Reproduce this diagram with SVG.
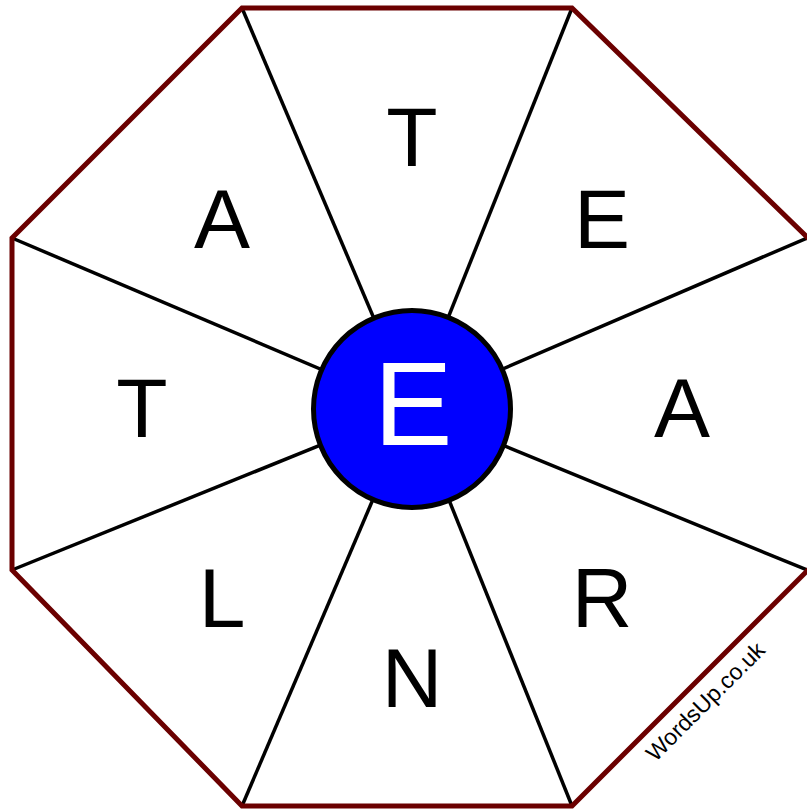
<svg xmlns="http://www.w3.org/2000/svg" width="807" height="809" viewBox="0 0 807 809">
<style>
.spoke{stroke:#000;stroke-width:3.5;fill:none}
.letter{font-family:"Liberation Sans",Arial,sans-serif;font-size:84px;fill:#000;text-anchor:middle}
</style>
<rect width="807" height="809" fill="#fff"/>
<g id="connectors">
<line class="spoke" x1="242" y1="8" x2="412" y2="408"/>
<line class="spoke" x1="572" y1="8" x2="412" y2="408"/>
<line class="spoke" x1="807" y1="238" x2="412" y2="408"/>
<line class="spoke" x1="807" y1="570" x2="412" y2="408"/>
<line class="spoke" x1="572" y1="806" x2="412" y2="408"/>
<line class="spoke" x1="242" y1="806" x2="412" y2="408"/>
<line class="spoke" x1="12" y1="570" x2="412" y2="408"/>
<line class="spoke" x1="12" y1="238" x2="412" y2="408"/>
</g>
<g id="octagon">
<polygon points="242,8 572,8 810,240 810,568 572,806 242,806 12,570 12,238" fill="none" stroke="#6B0000" stroke-width="5" stroke-linejoin="miter"/>
</g>
<g id="letters">
<text class="letter" x="412" y="166">T</text>
<text class="letter" x="602" y="248">E</text>
<text class="letter" x="682" y="437">A</text>
<text class="letter" x="602" y="627">R</text>
<text class="letter" x="412" y="707">N</text>
<text class="letter" x="222" y="627">L</text>
<text class="letter" x="142" y="437">T</text>
<text class="letter" x="222" y="248">A</text>
</g>
<g id="center">
<circle cx="412" cy="409" r="98.5" fill="#0000FF" stroke="#000" stroke-width="5"/>
<text x="413" y="445" font-family="Liberation Sans, Arial, sans-serif" font-size="118" fill="#fff" text-anchor="middle">E</text>
</g>
<g id="watermark">
<text x="0" y="0" transform="translate(711,707) rotate(-45)" font-family="Liberation Sans, Arial, sans-serif" font-size="23" fill="#000" text-anchor="middle">WordsUp.co.uk</text>
</g>
</svg>
